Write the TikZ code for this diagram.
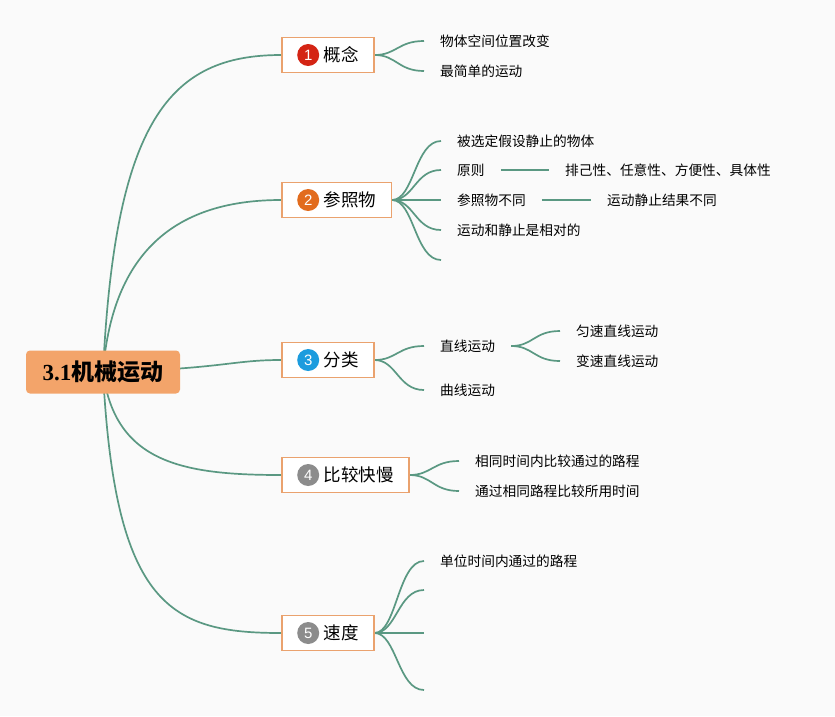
\documentclass[tikz,border=0pt]{standalone}
\usepackage{fontspec}
\setmainfont{Noto Sans CJK SC}
\newfontfamily\numfont{Liberation Sans}
\newfontfamily\serifbf{Liberation Serif}
\usetikzlibrary{positioning,backgrounds}
\definecolor{linegreen}{RGB}{90,152,130}
\definecolor{rootorange}{RGB}{243,164,106}
\definecolor{boxorange}{RGB}{234,162,110}
\definecolor{bgpaper}{RGB}{250,250,250}
\definecolor{dotred}{RGB}{212,36,20}
\definecolor{dotorange}{RGB}{226,108,30}
\definecolor{dotblue}{RGB}{28,156,222}
\definecolor{dotgray}{RGB}{140,140,140}

\begin{document}
\begin{tikzpicture}[x=1pt,y=-1pt,
  mainbox/.style={fill=rootorange,rounded corners=4pt,minimum width=154pt,minimum height=43pt,
    font=\fontsize{23}{25}\selectfont\bfseries},
  topic/.style={draw=boxorange,line width=1.5pt,fill=white,anchor=west,minimum height=35pt,
    inner xsep=15pt,font=\fontsize{17.5}{20}\selectfont},
  numdot/.style={circle,fill=#1,text=white,inner sep=0pt,minimum size=22pt,
    font=\numfont\fontsize{15}{15}\selectfont},
  leaf/.style={anchor=west,inner xsep=16pt,inner ysep=2pt,font=\fontsize{13.7}{15}\selectfont},
  link/.style={draw=linegreen,line width=1.7pt}]
  \useasboundingbox (0,0) rectangle (835,716);

  % root and main topics
  \node[mainbox] (root) at (103,372) {{\serifbf\bfseries 3.1}机械运动};
  \node[topic] (b1) at (281,55) {\hspace*{27pt}概念};
  \node[topic] (b2) at (281,200) {\hspace*{27pt}参照物};
  \node[topic] (b3) at (281,360) {\hspace*{27pt}分类};
  \node[topic] (b4) at (281,475) {\hspace*{27pt}比较快慢};
  \node[topic] (b5) at (281,633) {\hspace*{27pt}速度};
  \node[numdot=dotred, right=16pt of b1.west] (n1) {1};
  \node[numdot=dotorange, right=16pt of b2.west] (n2) {2};
  \node[numdot=dotblue, right=16pt of b3.west] (n3) {3};
  \node[numdot=dotgray, right=16pt of b4.west] (n4) {4};
  \node[numdot=dotgray, right=16pt of b5.west] (n5) {5};

  % leaves
  \node[leaf] (l1a) at (424,41) {物体空间位置改变};
  \node[leaf] (l1b) at (424,71) {最简单的运动};
  \node[leaf] (l2a) at (441,141) {被选定假设静止的物体};
  \node[leaf] (l2b) at (441,170) {原则};
  \node[leaf] (l2c) at (441,200) {参照物不同};
  \node[leaf] (l2d) at (441,230) {运动和静止是相对的};
  \coordinate (l2e) at (441,260);
  \node[leaf] (l2b1) at (549,170) {排己性、任意性、方便性、具体性};
  \node[leaf] (l2c1) at (591,200) {运动静止结果不同};
  \node[leaf] (l3a) at (424,346) {直线运动};
  \node[leaf] (l3b) at (424,390) {曲线运动};
  \node[leaf] (l3a1) at (560,331) {匀速直线运动};
  \node[leaf] (l3a2) at (560,361) {变速直线运动};
  \node[leaf] (l4a) at (459,461) {相同时间内比较通过的路程};
  \node[leaf] (l4b) at (459,491) {通过相同路程比较所用时间};
  \node[leaf] (l5a) at (424,561) {单位时间内通过的路程};
  \coordinate (l5b) at (424,590);
  \coordinate (l5c) at (424,633);
  \coordinate (l5d) at (424,690);

  \begin{scope}[on background layer]
    \fill[bgpaper] (0,0) rectangle (835,716);
    % root to topics
    \draw[link] (root.center) .. controls +(12,-252) and +(-111,0) .. (b1.west);
    \draw[link] (root.center) .. controls +(10,-130) and +(-95,0) .. (b2.west);
    \draw[link] (root.center) .. controls +(120,-3) and +(-50,0) .. (b3.west);
    \draw[link] (root.center) .. controls +(12,90) and +(-100,0) .. (b4.west);
    \draw[link] (root.center) .. controls +(12,235) and +(-110,0) .. (b5.west);
    % topics to leaves
    \draw[link] (b1.east) .. controls +(22,0) and +(-26,0) .. (l1a.west);
    \draw[link] (b1.east) .. controls +(22,0) and +(-26,0) .. (l1b.west);
    \draw[link] (b2.east) .. controls +(22,0) and +(-26,0) .. (l2a.west);
    \draw[link] (b2.east) .. controls +(22,0) and +(-26,0) .. (l2b.west);
    \draw[link] (b2.east) -- (l2c.west);
    \draw[link] (b2.east) .. controls +(22,0) and +(-26,0) .. (l2d.west);
    \draw[link] (b2.east) .. controls +(22,0) and +(-26,0) .. (l2e);
    \draw[link] (l2b.east) -- (l2b1.west);
    \draw[link] (l2c.east) -- (l2c1.west);
    \draw[link] (b3.east) .. controls +(22,0) and +(-26,0) .. (l3a.west);
    \draw[link] (b3.east) .. controls +(22,0) and +(-26,0) .. (l3b.west);
    \draw[link] (l3a.east) .. controls +(22,0) and +(-26,0) .. (l3a1.west);
    \draw[link] (l3a.east) .. controls +(22,0) and +(-26,0) .. (l3a2.west);
    \draw[link] (b4.east) .. controls +(22,0) and +(-26,0) .. (l4a.west);
    \draw[link] (b4.east) .. controls +(22,0) and +(-26,0) .. (l4b.west);
    \draw[link] (b5.east) .. controls +(22,0) and +(-26,0) .. (l5a.west);
    \draw[link] (b5.east) .. controls +(22,0) and +(-26,0) .. (l5b);
    \draw[link] (b5.east) -- (l5c);
    \draw[link] (b5.east) .. controls +(22,0) and +(-26,0) .. (l5d);
  \end{scope}
\end{tikzpicture}
\end{document}
